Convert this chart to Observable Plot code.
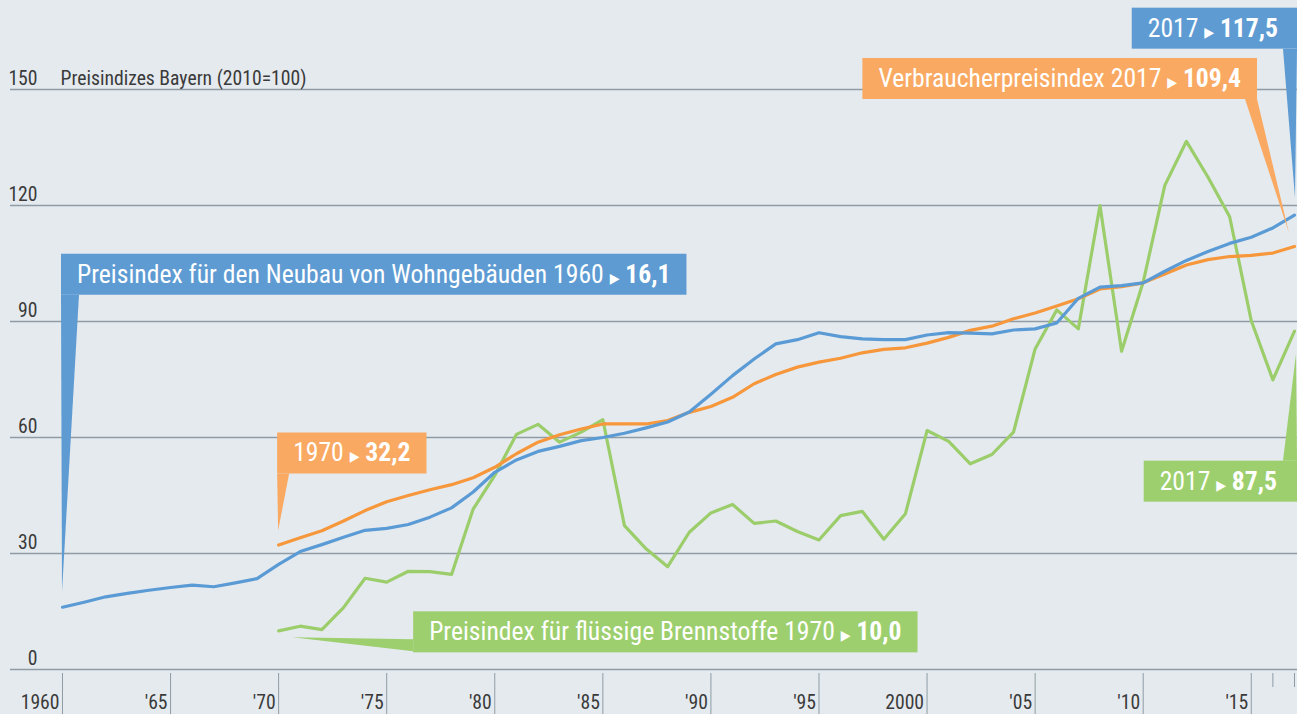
<!DOCTYPE html>
<html><head><meta charset="utf-8">
<script src="https://cdn.jsdelivr.net/npm/d3@7"></script>
<script src="https://cdn.jsdelivr.net/npm/@observablehq/plot@0.6"></script>
<style>
html,body{margin:0;padding:0;background:#e5eaef;overflow:hidden}
#chart svg{display:block}
</style></head><body><div id="chart"></div>
<script>
// ---------- data ----------
const blueStart = 1960;
const blueValues = [16.1,17.4,18.8,19.7,20.5,21.2,21.8,21.4,22.4,23.5,
  27.2,30.5,32.3,34.2,36.0,36.5,37.5,39.4,41.8,45.9,
  51.0,54.2,56.4,57.7,59.2,60.0,61.1,62.5,64.0,66.6,
  71.2,76.0,80.3,84.2,85.3,87.1,86.1,85.5,85.3,85.3,
  86.5,87.1,87.0,86.8,87.8,88.1,89.6,96.0,98.9,99.3,
  100.0,103.0,105.8,108.1,110.2,111.8,114.2,117.5];
const orangeStart = 1970;
const orangeValues = [32.2,34.1,35.9,38.4,41.1,43.4,45.0,46.5,47.8,49.6,
  52.3,55.8,58.8,60.7,62.2,63.5,63.5,63.5,64.4,66.5,
  68.0,70.4,73.9,76.3,78.2,79.5,80.5,81.9,82.8,83.2,
  84.4,85.9,87.7,88.8,90.7,92.2,94.0,95.9,98.4,99.0,
  100.0,102.3,104.6,106.0,106.8,107.1,107.7,109.4];
const greenStart = 1970;
const greenValues = [10.0,11.2,10.3,16.0,23.6,22.6,25.4,25.3,24.6,41.5,
  50.2,60.8,63.4,58.8,61.4,64.6,37.2,31.2,26.6,35.5,
  40.5,42.7,37.8,38.4,35.7,33.5,39.8,40.9,33.7,40.3,
  61.8,59.0,53.2,55.6,61.4,82.9,93.0,88.1,120.0,82.3,
  100.2,125.2,136.6,127.3,117.1,90.2,74.9,87.5];

const yTicks = [0, 30, 60, 90, 120, 150];
const yTitle = "Preisindizes Bayern (2010=100)";
const majorTicks = [1960,1965,1970,1975,1980,1985,1990,1995,2000,2005,2010,2015];
const majorLabels = ["1960","'65","'70","'75","'80","'85","'90","'95","2000","'05","'10","'15"];
const minorTicks = [2016, 2017];

const calloutSeries = ["blue","orange","green","green","orange","blue"];
const calloutYears  = [1960, 1970, 1970, 2017, 2017, 2017];
const calloutTexts  = ["Preisindex für den Neubau von Wohngebäuden 1960", "1970",
  "Preisindex für flüssige Brennstoffe 1970", "2017", "Verbraucherpreisindex 2017", "2017"];
const calloutValues = ["16,1", "32,2", "10,0", "87,5", "109,4", "117,5"];

// ---------- font choice (a condensed face if one is installed) ----------
const NS = "http://www.w3.org/2000/svg";
const probe = document.createElementNS(NS, "svg");
probe.setAttribute("width", 10); probe.setAttribute("height", 10);
probe.style.position = "absolute"; probe.style.left = "-9999px";
document.body.appendChild(probe);
function measure(family, stretch, size, str, weight) {
  const t = document.createElementNS(NS, "text");
  t.setAttribute("font-family", family);
  t.setAttribute("font-size", size);
  t.style.fontStretch = stretch;
  if (weight) t.setAttribute("font-weight", weight);
  t.textContent = str;
  probe.appendChild(t);
  const w = t.getComputedTextLength();
  probe.removeChild(t);
  return w;
}
const sample = "Preisindex für den Neubau von Wohngebäuden 1960";
const candidates = [
  {family: '"Roboto Condensed"', stretch: "normal"},
  {family: '"Liberation Sans Narrow"', stretch: "normal"},
  {family: '"Arial Narrow"', stretch: "normal"},
  {family: '"DejaVu Sans Condensed"', stretch: "normal"},
  {family: '"Open Sans"', stretch: "75%"},
  {family: '"DejaVu Sans"', stretch: "condensed"},
  {family: 'Roboto', stretch: "condensed"}
];
let chosen = {family: "Roboto", stretch: "normal"};
for (const c of candidates) {
  const base = measure("monospace", "normal", 100, sample);
  const withF = measure(c.family + ", monospace", "normal", 100, sample);
  if (Math.abs(base - withF) < 0.5) continue; // not installed
  if (c.stretch !== "normal") {
    const narrow = measure(c.family, c.stretch, 100, sample);
    if (narrow >= withF - 1) continue; // stretch not supported
  }
  chosen = c; break;
}
const FONT = chosen.family + ", Roboto, sans-serif";
const STRETCH = chosen.stretch;
// sizes so that texts span the widths seen in the reference
const calloutSize = 527 * 100 / measure(FONT, STRETCH, 100, sample);
const axisSize = 246 * 100 / measure(FONT, STRETCH, 100, yTitle);
document.body.removeChild(probe);

// ---------- styles ----------
const lineColor = {blue: "#5b9bd5", orange: "#f7973b", green: "#9ccd6b"};
const boxColor  = {blue: "#5e9bd3", orange: "#f9a961", green: "#9dcf6e"};
const gridColor = "#8f9ca5";
const textColor = "#3a3a3a";

const toRows = (start, vals) => vals.map((v, i) => ({year: start + i, value: v}));
const blue = toRows(blueStart, blueValues);
const orange = toRows(orangeStart, orangeValues);
const green = toRows(greenStart, greenValues);
const seriesRows = {blue, orange, green};

const plot = Plot.plot({
  width: 1297, height: 714,
  marginLeft: 62, marginRight: 3, marginTop: 89, marginBottom: 45,
  x: {domain: [1960, 2017]},
  y: {domain: [0, 150], axis: null},
  style: {background: "#e5eaef", fontFamily: FONT, fontStretch: STRETCH, fontSize: axisSize + "px", color: textColor, overflow: "visible"},
  marks: [
    Plot.ruleY(yTicks, {y: d => d, stroke: gridColor, strokeWidth: 1.5, insetLeft: -52, insetRight: -3}),
    Plot.text(yTicks, {y: d => d, text: d => String(d), frameAnchor: "left", textAnchor: "end", lineAnchor: "bottom", dx: -25, dy: -5, fill: textColor, fontSize: axisSize}),
    Plot.text([150], {y: d => d, text: () => yTitle, frameAnchor: "left", textAnchor: "start", lineAnchor: "bottom", dx: -2, dy: -5, fill: textColor, fontSize: axisSize}),
    Plot.axisX(majorTicks, {tickSize: 41, dy: 4, fill: null, stroke: gridColor, label: null}),
    Plot.axisX(minorTicks, {tickSize: 14, dy: 4, fill: null, stroke: gridColor, label: null}),
    Plot.text(majorTicks, {x: d => d, text: (d, i) => majorLabels[i], frameAnchor: "bottom", textAnchor: "end", lineAnchor: "bottom", dx: -3, dy: 39, fill: textColor, fontSize: axisSize}),
    Plot.line(green, {x: "year", y: "value", stroke: lineColor.green, strokeWidth: 3.2}),
    Plot.line(orange, {x: "year", y: "value", stroke: lineColor.orange, strokeWidth: 3.2}),
    Plot.line(blue, {x: "year", y: "value", stroke: lineColor.blue, strokeWidth: 3.2})
  ]
});
document.getElementById("chart").appendChild(plot);

// ---------- callouts (positioned from the plot's scales) ----------
const xs = plot.scale("x"), ys = plot.scale("y");
const H = 41, PAD = 16;
const layouts = [
  (px, py, w) => { const left = px - 1, top = py - 353; return {left, right: left + w + 2 * PAD, top,
      tri: [[left, top + H], [left + 18, top + H], [px, py - 15]]}; },
  (px, py, w) => { const left = px - 1, top = py - 112; return {left, right: left + w + 2 * PAD, top,
      tri: [[left, top + H], [left + 12, top + H], [px, py - 14]]}; },
  (px, py, w) => { const left = px + 135, top = py - 19; return {left, right: left + w + 2 * PAD, top,
      tri: [[px + 14, py + 7], [left, top + 28], [left, top + 40]]}; },
  (px, py, w) => { const right = px + 12, left = px - 17 - w - PAD, top = py + 130; return {left, right, top,
      tri: [[px - 11, top], [px + 3, top], [px + 2, py + 23]]}; },
  (px, py, w) => { const right = px - 37, left = right - w - 2 * PAD, top = py - 188; return {left, right, top,
      tri: [[right - 12, top + H], [right, top + H], [px - 5, py - 13]]}; },
  (px, py, w) => { const right = px + 12, left = px - 16 - w - PAD, top = py - 207; return {left, right, top,
      tri: [[px - 11, top + H], [px + 3, top + H], [px + 1, py - 17]]}; }
];
const svg = d3.select(plot);
const layer = svg.append("g")
  .attr("font-family", FONT).attr("font-size", calloutSize)
  .attr("text-anchor", "start").style("font-stretch", STRETCH);
calloutSeries.forEach((s, i) => {
  const row = seriesRows[s].find(r => r.year === calloutYears[i]);
  const px = xs.apply(row.year), py = ys.apply(row.value);
  const g = layer.append("g");
  const tri = g.append("path").attr("fill", boxColor[s]);
  const rect = g.append("rect").attr("fill", boxColor[s]);
  const t = g.append("text").attr("fill", "#fff").attr("text-anchor", "start");
  t.append("tspan").text(calloutTexts[i] + " ");
  t.append("tspan").attr("font-family", "DejaVu Sans").style("font-stretch", "condensed")
    .attr("font-size", calloutSize * 0.55).text("▶");
  t.append("tspan").text(" ");
  t.append("tspan").attr("font-weight", "bold").text(calloutValues[i]);
  const w = t.node().getComputedTextLength();
  const L = layouts[i](px, py, w);
  rect.attr("x", L.left).attr("y", L.top).attr("width", L.right - L.left).attr("height", H);
  t.attr("x", L.left + PAD).attr("y", L.top + 29);
  tri.attr("d", "M" + L.tri.map(p => p.join(",")).join("L") + "Z");
});
</script></body></html>
